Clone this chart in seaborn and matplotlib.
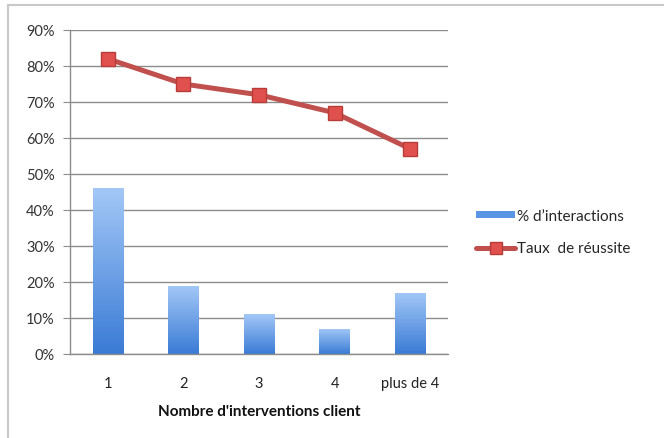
import numpy as np
import pandas as pd
import matplotlib
matplotlib.use("Agg")
import matplotlib.pyplot as plt
from matplotlib.lines import Line2D
from matplotlib.patches import Patch
from matplotlib.colors import LinearSegmentedColormap
import seaborn as sns

# données
categories = ["1", "2", "3", "4", "plus de 4"]
pct_interactions = [46, 19, 11, 7, 17]
taux_reussite = [82, 75, 72, 67, 57]
y_ticks = [0, 10, 20, 30, 40, 50, 60, 70, 80, 90]

df = pd.DataFrame({"cat": categories, "inter": pct_interactions, "taux": taux_reussite})

sns.set_style("white")
plt.rcParams["font.family"] = ["Lato", "DejaVu Sans"]

fig = plt.figure(figsize=(6.64, 4.39), dpi=100)
ax = fig.add_axes([70 / 664, 1 - 355 / 439, 378 / 664, 324 / 439])

# barres en dégradé bleu
sns.barplot(data=df, x="cat", y="inter", color="#5b95e5", width=0.4, ax=ax, zorder=2)
grad = LinearSegmentedColormap.from_list("g", ["#3a7bd5", "#a3c8f7"])
for bar in ax.patches:
    x0, y0 = bar.get_x(), bar.get_y()
    w, h = bar.get_width(), bar.get_height()
    img = ax.imshow(np.linspace(0, 1, 256).reshape(-1, 1), cmap=grad, origin="lower",
                    extent=[x0, x0 + w, y0, y0 + h], aspect="auto", zorder=2.5)
    img.set_clip_path(bar)
    bar.set_alpha(0)

# courbe taux de réussite
sns.pointplot(data=df, x="cat", y="taux", color="#c0504d", markers="s", ax=ax,
              markersize=10.5, zorder=4)
for ln in ax.lines:
    ln.set_linewidth(3.6)
    ln.set_markerfacecolor("#e0504c")
    ln.set_markeredgecolor("#b83c3a")
    ln.set_markeredgewidth(1)

ax.set_xlim(-0.5, 4.5)
ax.set_ylim(0, 90)
ax.set_yticks(y_ticks)
ax.set_yticklabels([f"{v}%" for v in y_ticks])
ax.yaxis.grid(True, color="#8c8c8c", linewidth=1)
ax.set_axisbelow(True)
ax.set_xticks(range(len(categories)))
ax.set_xticklabels(categories)
ax.set_xticks(np.arange(-0.5, 5, 1), minor=True)
ax.tick_params(axis="x", which="major", length=0, pad=16, labelsize=10.5, labelcolor="#222222")
ax.tick_params(axis="x", which="minor", length=5, color="#8c8c8c", direction="out")
ax.tick_params(axis="y", length=5, color="#8c8c8c", direction="out", labelsize=10.5,
               labelcolor="#333333", pad=6, left=True)
for s in ["top", "right"]:
    ax.spines[s].set_visible(False)
for s in ["left", "bottom"]:
    ax.spines[s].set_color("#8c8c8c")
    ax.spines[s].set_linewidth(1)
ax.set_ylabel("")
ax.set_xlabel("Nombre d'interventions client", fontsize=11, fontweight="bold",
              color="#111111", labelpad=10)

handles = [
    Patch(facecolor="#5b95e5", edgecolor="none"),
    Line2D([0], [0], color="#c0504d", linewidth=3.6, marker="s", markersize=8,
           markerfacecolor="#e0504c", markeredgecolor="#b83c3a"),
]
fig.legend(handles, ["% d’interactions", "Taux  de réussite"], loc="upper left",
           bbox_to_anchor=(462 / 664, 1 - 196 / 439), frameon=False, fontsize=11,
           handlelength=2.6, handleheight=0.35, handletextpad=0.1, labelspacing=1.2)

# cadre gris autour du graphique
fig.add_artist(Line2D([8 / 664, 8 / 664], [0, 1 - 6 / 439], color="#c8c8c8", linewidth=1.5,
                      transform=fig.transFigure))
fig.add_artist(Line2D([8 / 664, 1], [1 - 6 / 439, 1 - 6 / 439], color="#c8c8c8", linewidth=1.5,
                      transform=fig.transFigure))

fig.savefig("out.png", dpi=100)
